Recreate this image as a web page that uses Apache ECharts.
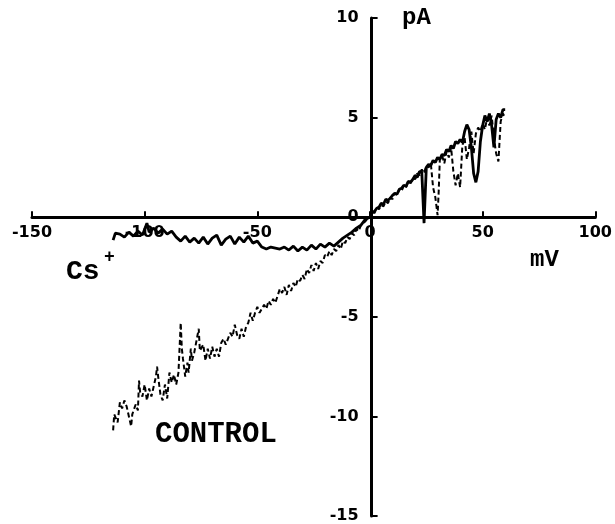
<!DOCTYPE html>
<html>
<head>
<meta charset="utf-8">
<title>I-V relation</title>
<script src="https://cdn.jsdelivr.net/npm/echarts@6/dist/echarts.min.js"></script>
<style>
  html, body { margin: 0; padding: 0; background: #fff; }
  #chart { width: 615px; height: 524px; }
</style>
</head>
<body>
<div id="chart"></div>
<script>
// Membrane potential (mV) and current (pA) with Cs+ in the bath
const csVoltage = [
  -114, -113, -111, -109, -107, -105, -103, -101, -99, -98, -96, -94, -92, -90,
  -88, -86, -84, -82, -80, -78, -76, -74, -72, -70, -68, -66, -64, -62, -60,
  -58, -56, -54, -52, -50, -48, -46, -44, -42, -40, -38, -36, -34, -32, -30,
  -28, -26, -24, -22, -20, -18, -16, -14, -12, -10, -8, -6, -4, -2,
  0, 1, 2, 3, 4, 5, 6, 7, 8, 9, 10, 11, 12, 13, 14, 15, 16, 17, 18, 19, 20,
  21, 22, 23, 24, 25, 26, 27, 28, 29, 30, 31, 32, 33, 34, 35, 36, 37, 38, 39,
  40, 41, 42, 43, 44, 45, 46, 47, 48, 49, 50, 51, 52, 53, 54, 55, 56, 57, 58,
  59, 60
];
const csCurrent = [
  -1.15, -0.8, -0.85, -1.0, -0.75, -0.95, -0.7, -0.9, -0.3, -0.75, -0.55, -0.8, -0.6, -0.85,
  -0.7, -1.0, -1.2, -0.95, -1.25, -1.05, -1.3, -1.0, -1.35, -1.05, -0.9, -1.4, -1.1, -0.95, -1.35,
  -1.0, -1.25, -0.95, -1.3, -1.2, -1.5, -1.6, -1.5, -1.55, -1.6, -1.5, -1.65, -1.45, -1.7, -1.5,
  -1.65, -1.4, -1.6, -1.35, -1.5, -1.3, -1.45, -1.25, -1.05, -0.9, -0.75, -0.55, -0.4, -0.1,
  0.0, 0.25, 0.3, 0.45, 0.5, 0.7, 0.65, 0.9, 0.85, 0.95, 1.1, 1.2, 1.15, 1.4, 1.45, 1.6, 1.55, 1.8, 1.75, 1.9, 2.1,
  2.0, 2.3, 2.25, -0.3, 2.5, 2.65, 2.6, 2.85, 2.75, 3.0, 2.9, 3.15, 3.1, 3.4, 3.3, 3.6, 3.45, 3.8, 3.7,
  3.9, 3.75, 4.3, 4.65, 4.4, 3.5, 2.2, 1.75, 2.3, 3.8, 4.6, 5.1, 4.8, 5.2, 4.6, 3.5, 4.9, 5.2, 5.0,
  5.4, 5.4
];

// Control recording
const controlVoltage = [
  -114, -113.5, -112, -111, -110, -109, -108, -106, -105.5, -104, -103, -102.5, -102, -101,
  -100, -99, -98, -97, -96, -95, -94.5, -94, -93, -92, -91, -90, -89, -88, -87, -86, -85,
  -84, -83.5, -83, -82, -81, -80.5, -79.5, -79, -78, -77, -76, -75.5, -74, -73, -72, -71,
  -70, -69, -68, -67, -66, -65, -64, -62, -61, -60, -59, -58, -57, -56, -55, -54, -53,
  -52, -51, -50, -49, -48, -47, -46, -45, -44, -43, -42, -40, -39, -38, -37, -36, -35,
  -34, -33, -32, -31, -30, -29, -28, -27, -26, -25, -24, -23, -22, -21, -20, -19, -18,
  -17, -16, -15, -14, -13, -12, -11, -10, -9, -8, -7, -6, -5, -4, -3, -2, -1,
  0, 1, 2, 3, 4, 5, 6, 7, 8, 9, 10, 11, 12, 13, 14, 15, 16, 17, 18, 19, 20, 21, 22,
  23, 24, 25, 26, 27, 28, 29, 30, 30.5, 31, 32, 33, 34, 35, 36, 37, 38, 39, 40, 41,
  42, 43, 44, 45, 46, 47, 48, 49, 50, 51, 52, 53, 54, 55, 56, 57, 58, 59, 60
];
const controlCurrent = [
  -10.7, -9.9, -10.3, -9.3, -9.6, -9.2, -9.5, -10.5, -9.9, -9.4, -9.7, -8.2, -8.8, -9.0,
  -8.4, -9.2, -8.6, -9.0, -8.5, -8.0, -7.5, -8.0, -8.9, -9.2, -8.4, -9.1, -7.8, -8.3, -7.9, -8.4, -7.8,
  -5.3, -6.6, -7.1, -8.0, -7.3, -7.8, -6.6, -7.2, -6.8, -6.2, -5.6, -6.7, -6.4, -7.2, -6.6, -7.1,
  -6.5, -7.0, -6.6, -7.0, -6.3, -6.1, -6.4, -5.8, -6.0, -5.4, -5.9, -6.1, -5.6, -6.0, -5.5, -5.3, -4.8,
  -5.2, -4.8, -4.5, -4.8, -4.6, -4.4, -4.6, -4.2, -4.4, -4.1, -4.3, -3.6, -3.8, -3.5, -3.9, -3.4, -3.7,
  -3.3, -3.5, -3.1, -3.2, -2.9, -3.1, -2.6, -2.8, -2.4, -2.7, -2.3, -2.6, -2.2, -2.3, -1.9, -2.0, -1.7,
  -1.9, -1.6, -1.7, -1.4, -1.6, -1.2, -1.3, -1.0, -1.1, -0.8, -0.9, -0.6, -0.7, -0.4, -0.3, -0.2, -0.05,
  0.05, 0.3, 0.2, 0.5, 0.4, 0.6, 0.55, 0.8, 0.7, 1.0, 0.9, 1.2, 1.1, 1.4, 1.3, 1.6, 1.5, 1.8, 1.7, 2.0, 1.9, 2.2, 2.1,
  2.4, 2.2, 2.6, 2.5, 2.7, 1.5, 1.0, 0.1, 1.3, 2.9, 3.1, 2.7, 3.3, 3.0, 3.5, 2.3, 1.6, 2.2, 1.5, 3.6,
  4.0, 2.9, 3.5, 4.3, 3.2, 4.2, 4.5, 4.3, 4.7, 4.4, 5.0, 4.6, 5.1, 4.0, 3.2, 2.8, 4.8, 5.2, 5.0
];

// Axis ranges and tick spacing
const voltageRange = [-150, 100];
const voltageStep = 50;
const currentRange = [-15, 10];
const currentStep = 5;

const pairs = (xs, ys) => xs.map((x, i) => [x, ys[i]]);

// Plot area
const W = 615, H = 524;
const gridBox = { left: 32, right: 17, top: 18, bottom: 8 };
const plotW = W - gridBox.left - gridBox.right;
const plotH = H - gridBox.top - gridBox.bottom;

// Both axes cross at the origin; shift them (with their ticks and labels) there
const xAxisOffset = -plotH * (0 - currentRange[0]) / (currentRange[1] - currentRange[0]);
const yAxisOffset = -plotW * (0 - voltageRange[0]) / (voltageRange[1] - voltageRange[0]);

const numFont = { color: '#000', fontFamily: 'DejaVu Sans', fontWeight: 'bold', fontSize: 16 };
const monoFont = 'Liberation Mono';

const chart = echarts.init(document.getElementById('chart'), null, { renderer: 'canvas' });
chart.setOption({
  animation: false,
  backgroundColor: '#fff',
  grid: Object.assign({ containLabel: false }, gridBox),
  xAxis: {
    type: 'value',
    position: 'bottom',
    offset: xAxisOffset,
    min: voltageRange[0], max: voltageRange[1], interval: voltageStep,
    axisLine: { onZero: false, lineStyle: { color: '#000', width: 3 } },
    axisTick: { inside: true, length: 6, lineStyle: { color: '#000', width: 2 } },
    axisLabel: Object.assign({ margin: 8 }, numFont),
    splitLine: { show: false }
  },
  yAxis: {
    type: 'value',
    position: 'left',
    offset: yAxisOffset,
    min: currentRange[0], max: currentRange[1], interval: currentStep,
    axisLine: { onZero: false, lineStyle: { color: '#000', width: 3 } },
    axisTick: { inside: true, length: 6, lineStyle: { color: '#000', width: 2 } },
    axisLabel: Object.assign({ margin: 13 }, numFont),
    splitLine: { show: false }
  },
  series: [
    {
      name: 'Cs+',
      type: 'line',
      data: pairs(csVoltage, csCurrent),
      showSymbol: false,
      lineStyle: { color: '#000', width: 2.8 },
      z: 3
    },
    {
      name: 'CONTROL',
      type: 'line',
      data: pairs(controlVoltage, controlCurrent),
      showSymbol: false,
      lineStyle: { color: '#000', width: 2, type: [5, 3] },
      z: 2
    }
  ],
  graphic: [
    { type: 'text', left: 402, top: 6,
      style: { text: 'pA', fill: '#000', font: 'bold 24px ' + monoFont } },
    { type: 'text', left: 530, top: 248,
      style: { text: 'mV', fill: '#000', font: 'bold 24px ' + monoFont } },
    { type: 'text', left: 66, top: 258,
      style: { text: 'Cs', fill: '#000', font: 'bold 28px ' + monoFont } },
    { type: 'text', left: 104, top: 248,
      style: { text: '+', fill: '#000', font: 'bold 18px ' + monoFont } },
    { type: 'text', left: 155, top: 420,
      style: { text: 'CONTROL', fill: '#000', font: 'bold 29px ' + monoFont } }
  ]
});
</script>
</body>
</html>
